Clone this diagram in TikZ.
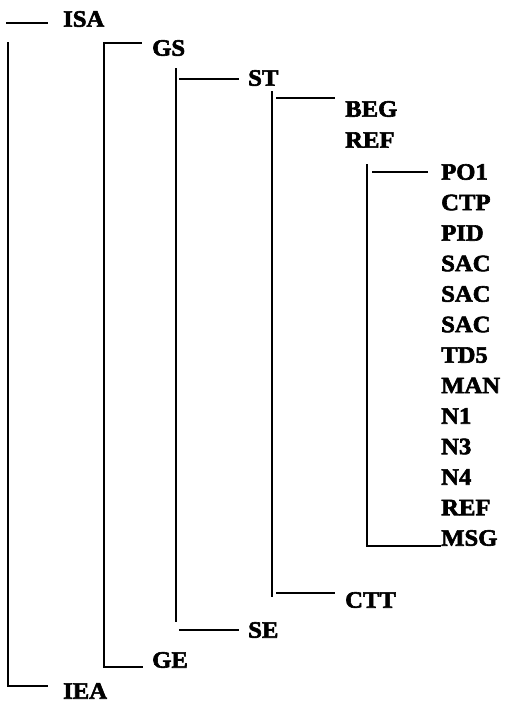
\documentclass[tikz,border=0pt]{standalone}
\usepackage{fontspec}
\setmainfont{Liberation Serif}[FakeStretch=1.05,FakeBold=2.5]
\begin{document}
\begin{tikzpicture}[x=1pt,y=-1pt,
  lbl/.style={anchor=west,inner sep=0pt,font=\bfseries\fontsize{23.5}{26}\selectfont,text height=15.4pt,text depth=0pt},
  conn/.style={line width=1.6pt,line cap=rect}]
\useasboundingbox (0,0) rectangle (507,709);
% labels
\node[lbl] (isa) at (63,19) {ISA};
\node[lbl] (gs) at (152,48) {GS};
\node[lbl] (st) at (248,78) {ST};
\node[lbl] (beg) at (345,109) {BEG};
\node[lbl] (ref1) at (345,140) {REF};
\foreach \t [count=\i from 0] in {PO1,CTP,PID,SAC,SAC,SAC,TD5,MAN,N1,N3,N4,REF,MSG}{
  \node[lbl] (s\i) at (441,172+30.5*\i) {\t};
}
\node[lbl] (ctt) at (345,600) {CTT};
\node[lbl] (se) at (248,630) {SE};
\node[lbl] (ge) at (152,660) {GE};
\node[lbl] (iea) at (63,691) {IEA};
% coordinates
\coordinate (a1) at (7,23);   \coordinate (a2) at (47,23);
\coordinate (v1t) at (8,43);  \coordinate (v1b) at (8,686); \coordinate (e1) at (47,686);
\coordinate (v2t) at (104,43); \coordinate (g1) at (141,43); \coordinate (v2b) at (104,667); \coordinate (g2) at (142,667);
\coordinate (v3t) at (176,69); \coordinate (v3b) at (176,621);
\coordinate (st1) at (180,79); \coordinate (st2) at (238,79);
\coordinate (se1) at (180,630); \coordinate (se2) at (238,630);
\coordinate (v4t) at (272,92); \coordinate (v4b) at (272,596);
\coordinate (b1) at (277,98); \coordinate (b2) at (334,98);
\coordinate (c1) at (277,593); \coordinate (c2) at (334,593);
\coordinate (v5t) at (367,165); \coordinate (v5b) at (367,546); \coordinate (m2) at (440,546);
\coordinate (p1) at (373,172); \coordinate (p2) at (427,172);
% connectors
\draw[conn] (a1) -- (a2);
\draw[conn] (v1t) -- (v1b) -- (e1);
\draw[conn] (g1) -- (v2t) -- (v2b) -- (g2);
\draw[conn] (v3t) -- (v3b);
\draw[conn] (st1) -- (st2);
\draw[conn] (se1) -- (se2);
\draw[conn] (v4t) -- (v4b);
\draw[conn] (b1) -- (b2);
\draw[conn] (c1) -- (c2);
\draw[conn] (v5t) -- (v5b) -- (m2);
\draw[conn] (p1) -- (p2);
\end{tikzpicture}
\end{document}
